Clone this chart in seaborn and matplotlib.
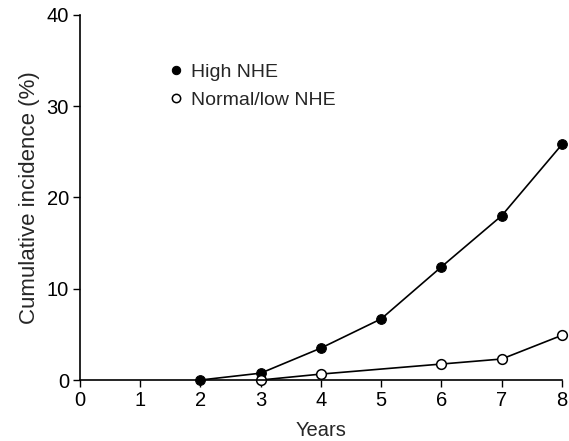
import matplotlib
matplotlib.use("Agg")
import matplotlib.pyplot as plt
import seaborn as sns
import pandas as pd

sns.set_style("ticks")
plt.rcParams['font.family'] = ['Liberation Sans', 'DejaVu Sans']

# data
high_years = [2, 3, 4, 5, 6, 7, 8]
high_inc = [0, 0.75, 3.5, 6.7, 12.4, 18.0, 25.8]
low_years = [3, 4, 6, 7, 8]
low_inc = [0, 0.65, 1.75, 2.3, 4.9]

high = pd.DataFrame({"Years": high_years, "inc": high_inc})
low = pd.DataFrame({"Years": low_years, "inc": low_inc})

fig = plt.figure(figsize=(5.69, 4.41), dpi=100)
ax = fig.add_axes([0.1406, 0.1383, 0.847, 0.828])

sns.lineplot(data=high, x="Years", y="inc", ax=ax, color="black", lw=1.2,
             marker="o", markersize=7, markerfacecolor="black",
             markeredgecolor="black", label="High NHE", clip_on=False)
sns.lineplot(data=low, x="Years", y="inc", ax=ax, color="black", lw=1.2,
             marker="o", markersize=7, markerfacecolor="white",
             markeredgecolor="black", markeredgewidth=1.1,
             label="Normal/low NHE", clip_on=False)

ax.set_xlim(0, 8)
ax.set_ylim(0, 40)
ax.set_xticks(range(0, 9))
ax.set_yticks([0, 10, 20, 30, 40])
ax.set_xlabel("Years", fontsize=14.5, labelpad=8)
ax.set_ylabel("Cumulative incidence (%)", fontsize=16, labelpad=5)
ax.tick_params(labelsize=14.5, length=5, width=1, direction="out", colors="black", pad=3)
for s in ["left", "bottom"]:
    ax.spines[s].set_linewidth(1.2)
    ax.spines[s].set_color("black")
sns.despine(ax=ax)

leg = ax.legend(loc="center left", bbox_to_anchor=(0.15, 0.805), frameon=False,
                handlelength=0.6, handletextpad=0.5, fontsize=14,
                labelspacing=0.55)
for h in leg.legend_handles:
    h.set_linestyle("")
    h.set_markersize(6)

fig.savefig("out.png", dpi=100)
